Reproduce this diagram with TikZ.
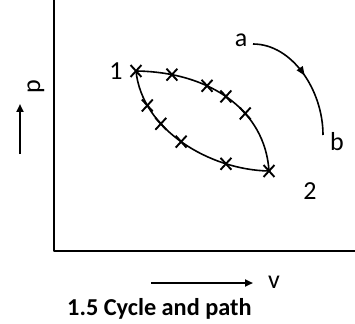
\documentclass[tikz,border=0pt]{standalone}
\usepackage{fontspec}
\setmainfont{Carlito}
\usetikzlibrary{arrows.meta,shapes.misc,decorations.markings}
\begin{document}
\begin{tikzpicture}[x=1pt,y=-1pt,
  axis/.style={line width=2.2pt},
  curve/.style={line width=1.6pt},
  cr/.style={cross out,draw,line width=1.9pt,minimum width=9pt,minimum height=10pt,inner sep=0pt},
  lbl/.style={font=\fontsize{26}{26}\selectfont,inner sep=0pt},
  ptr/.style={line width=2pt,-{Triangle[length=8pt,width=7pt]}},
  midarrow/.style={postaction={decorate,decoration={markings,mark=at position 0.5 with {\arrow{Triangle[length=9pt,width=7pt]}}}}}
]
\useasboundingbox (0,0) rectangle (355,323);
% axes
\coordinate (top) at (54,0);
\coordinate (org) at (54,251);
\coordinate (right) at (355,251);
\draw[axis,line join=round] (top) -- (org) -- (right);
% p arrow and label
\coordinate (pa0) at (20,154);
\coordinate (pa1) at (20,104);
\draw[ptr] (pa0) -- (pa1);
\node[lbl,rotate=90] (p) at (36,87) {p};
% v arrow and label
\coordinate (va0) at (151,283);
\coordinate (va1) at (253,283);
\draw[ptr] (va0) -- (va1);
\node[lbl] (v) at (274,282) {v};
% states
\node[cr] (s1) at (136,71) {};
\node[cr] (s2) at (269,171) {};
\node[lbl] (l1) at (116,71) {1};
\node[lbl] (l2) at (310,191) {2};
% upper path
\draw[curve] (s1.center) .. controls (210,72) and (265,110) .. (s2.center)
  node[cr,pos=0.17] (u1) {}
  node[cr,pos=0.36] (u2) {}
  node[cr,pos=0.48] (u3) {}
  node[cr,pos=0.63] (u4) {};
% lower path
\draw[curve] (s1.center) .. controls (142,130) and (210,170) .. (s2.center)
  node[cr,pos=0.21] (d1) {}
  node[cr,pos=0.34] (d2) {}
  node[cr,pos=0.49] (d3) {}
  node[cr,pos=0.76] (d4) {};
% a -> b arc
\node[lbl] (a) at (241,40) {a};
\node[lbl] (b) at (337,142) {b};
\coordinate (a0) at (253,44);
\coordinate (b0) at (323,135);
\draw[curve,midarrow] (a0) .. controls (292,44) and (323,90) .. (b0);
% caption
\node[font=\fontsize{24.3}{24.3}\selectfont\bfseries,anchor=west,inner sep=0pt] (cap) at (67,309) {1.5 Cycle and path};
\end{tikzpicture}
\end{document}
